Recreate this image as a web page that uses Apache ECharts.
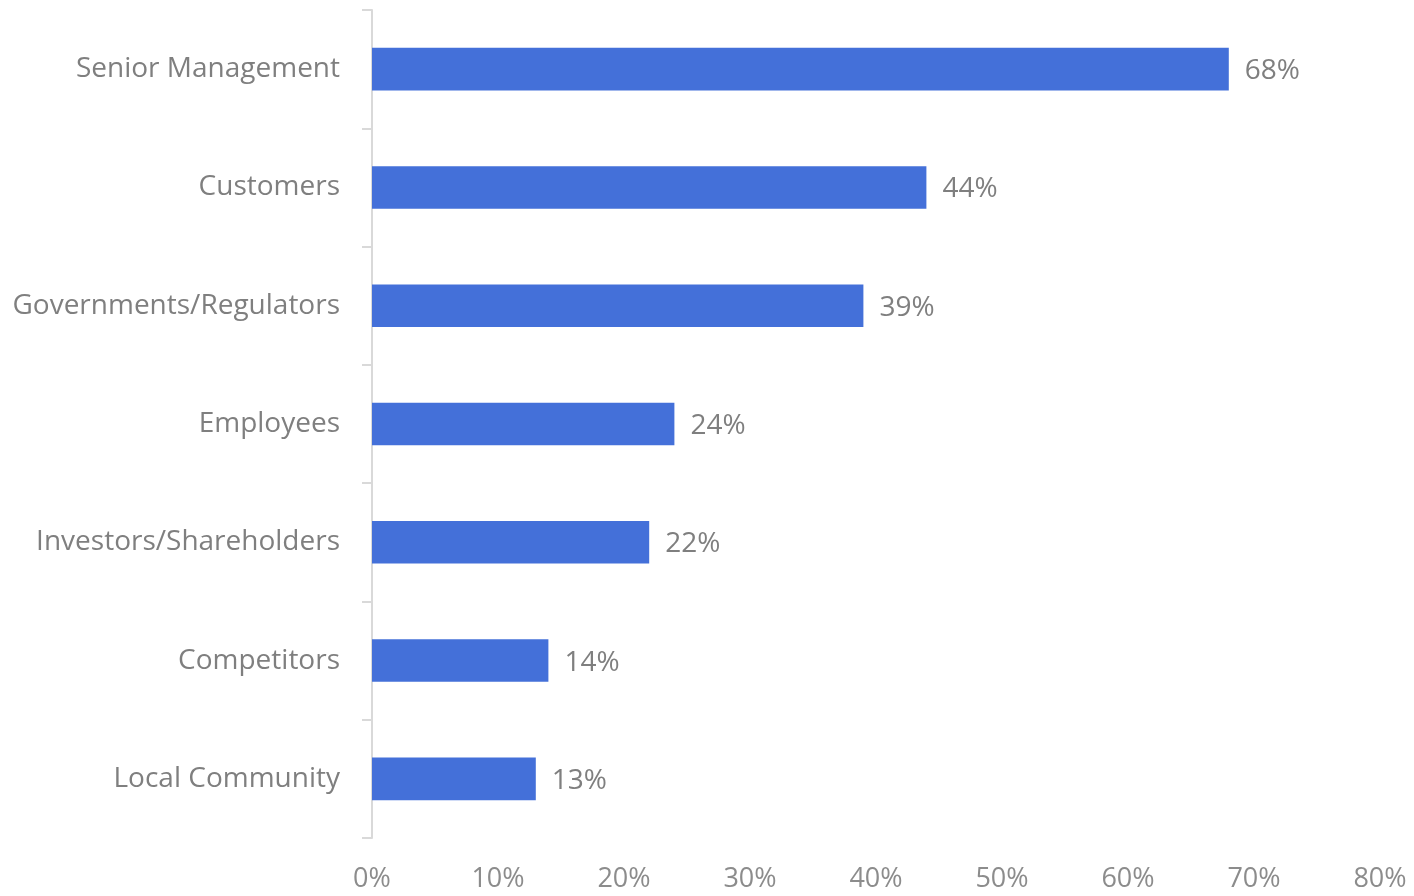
<!DOCTYPE html>
<html>
<head>
<meta charset="utf-8">
<script src="https://cdn.jsdelivr.net/npm/echarts@6/dist/echarts.min.js"></script>
<style>
  html, body { margin: 0; padding: 0; background: #ffffff; }
  #chart { width: 1414px; height: 896px; }
</style>
</head>
<body>
<div id="chart"></div>
<script>
// Stakeholder groups, listed top to bottom
const categories = [
  'Senior Management',
  'Customers',
  'Governments/Regulators',
  'Employees',
  'Investors/Shareholders',
  'Competitors',
  'Local Community'
];
// Share of respondents (%)
const values = [68, 44, 39, 24, 22, 14, 13];
// Horizontal axis range and step (%)
const axisMin = 0;
const axisMax = 80;
const axisStep = 10;

const FONT = '"Open Sans", Lato, sans-serif';
const chart = echarts.init(document.getElementById('chart'), null, { renderer: 'canvas' });

chart.setOption({
  backgroundColor: '#ffffff',
  animation: false,
  grid: { left: 372, right: 34, top: 10, bottom: 58, containLabel: false },
  xAxis: {
    type: 'value',
    min: axisMin,
    max: axisMax,
    interval: axisStep,
    axisLine: { show: false },
    axisTick: { show: false },
    splitLine: { show: false },
    axisLabel: {
      formatter: '{value}%',
      color: '#8c8c8c',
      fontFamily: FONT,
      fontSize: 27,
      margin: 28
    }
  },
  yAxis: {
    type: 'category',
    data: categories,
    inverse: true,
    axisLine: { show: true, lineStyle: { color: '#d9d9d9', width: 2 } },
    axisTick: { show: true, length: 10, lineStyle: { color: '#d9d9d9', width: 2 } },
    splitLine: { show: false },
    axisLabel: {
      color: '#7f7f7f',
      fontFamily: FONT,
      fontSize: 28,
      margin: 32
    }
  },
  series: [{
    type: 'bar',
    data: values,
    barCategoryGap: '64%',
    itemStyle: { color: '#4470d9' },
    label: {
      show: true,
      position: 'right',
      distance: 16,
      offset: [0, 2],
      formatter: '{c}%',
      color: '#7f7f7f',
      fontFamily: FONT,
      fontSize: 28
    }
  }]
});
</script>
</body>
</html>
